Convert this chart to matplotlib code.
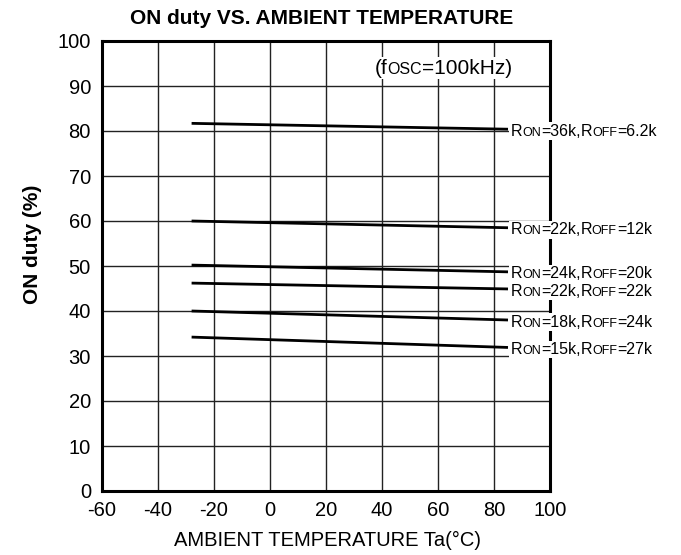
import matplotlib
matplotlib.use("Agg")
import matplotlib.pyplot as plt
from matplotlib.offsetbox import TextArea, HPacker, AnnotationBbox

plt.rcParams['font.family'] = ['Liberation Sans', 'DejaVu Sans']

# ---- data ----
temps = [-28, 85]
series_ron = ["36k", "22k", "24k", "22k", "18k", "15k"]
series_roff = ["6.2k", "12k", "20k", "22k", "24k", "27k"]
duty_start = [81.7, 60.0, 50.2, 46.2, 40.0, 34.2]
duty_end = [80.4, 58.5, 48.7, 44.9, 38.0, 31.9]
xticks = [-60, -40, -20, 0, 20, 40, 60, 80, 100]
yticks = [0, 10, 20, 30, 40, 50, 60, 70, 80, 90, 100]
title = "ON duty VS. AMBIENT TEMPERATURE"
xlabel = "AMBIENT TEMPERATURE Ta(°C)"
ylabel = "ON duty (%)"

W, H = 681, 555
fig = plt.figure(figsize=(W / 100, H / 100), dpi=100)
ax = fig.add_axes([102 / W, (H - 491) / H, 448 / W, 450 / H])

ax.set_xlim(-60, 100)
ax.set_ylim(0, 100)
ax.set_xticks(xticks)
ax.set_yticks(yticks)
ax.set_xticklabels([str(v) for v in xticks], fontsize=14.5)
ax.set_yticklabels([str(v) for v in yticks], fontsize=14.5)
ax.tick_params(axis='x', length=0, pad=7)
ax.tick_params(axis='y', length=0, pad=8)
ax.grid(True, color='#222222', linewidth=1.0)
ax.set_axisbelow(True)
for s in ax.spines.values():
    s.set_linewidth(2.2)
    s.set_color('black')

for y0, y1 in zip(duty_start, duty_end):
    ax.plot(temps, [y0, y1], color='black', linewidth=2.0, solid_capstyle='butt', zorder=3)

BIG = 11.5
SMALL = 9.0


def smallcaps_label(parts):
    boxes = [TextArea(t, textprops=dict(fontsize=s, color='black')) for t, s in parts]
    return HPacker(children=boxes, align='baseline', pad=0, sep=0)


for ron, roff, y1 in zip(series_ron, series_roff, duty_end):
    parts = [("R", BIG), ("ON", SMALL), ("=" + ron + ",", BIG), ("R", BIG), ("OFF", SMALL), ("=" + roff, BIG)]
    box = smallcaps_label(parts)
    ab = AnnotationBbox(box, (temps[1], y1), xycoords='data', box_alignment=(0, 0.5),
                        xybox=(2, -1.5), boxcoords='offset points', frameon=True, pad=0.1,
                        bboxprops=dict(facecolor='white', edgecolor='none'), zorder=4,
                        annotation_clip=False)
    ax.add_artist(ab)

# fosc label
fparts = [("(f", 15), ("OSC", 11.5), ("=100kHz)", 15)]
fbox = smallcaps_label(fparts)
ab = AnnotationBbox(fbox, (62, 94), xycoords='data', box_alignment=(0.5, 0.5),
                    frameon=True, pad=0.1, bboxprops=dict(facecolor='white', edgecolor='none'), zorder=4)
ax.add_artist(ab)

fig.text(322 / W, 1 - 19 / H, title, fontsize=15, fontweight='bold', ha='center', va='center')
fig.text(328 / W, 1 - 540 / H, xlabel, fontsize=14.5, ha='center', va='center')
fig.text(32 / W, 1 - 244 / H, ylabel, fontsize=15, fontweight='bold', ha='center', va='center', rotation=90)

fig.savefig("out.png", dpi=100)
